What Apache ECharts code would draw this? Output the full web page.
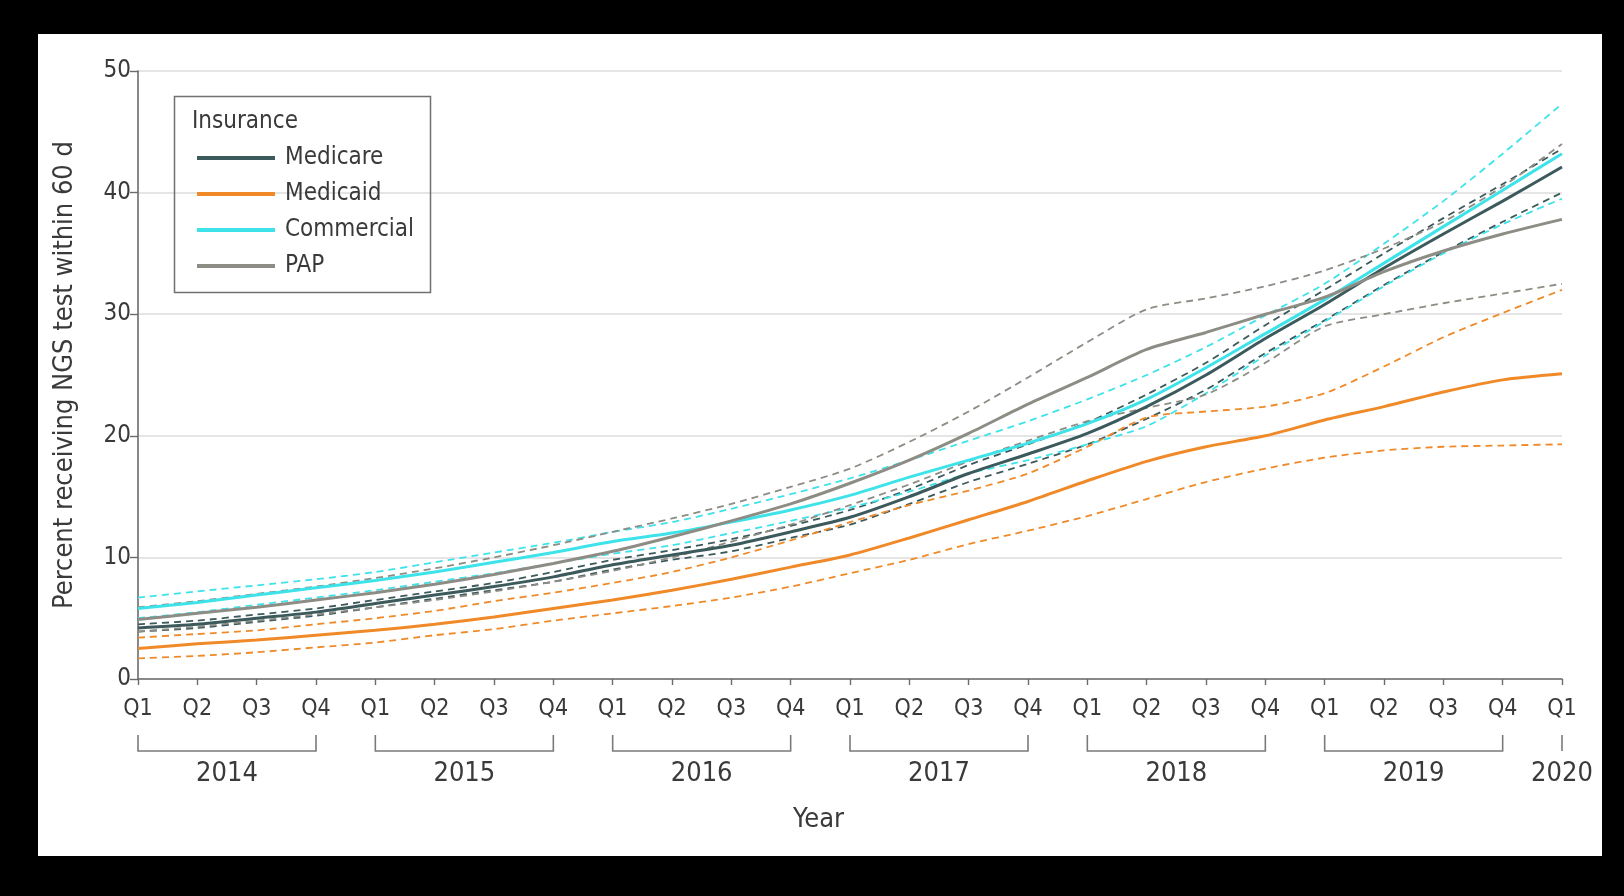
<!DOCTYPE html>
<html>
<head>
<meta charset="utf-8">
<script src="https://cdn.jsdelivr.net/npm/echarts@6/dist/echarts.min.js"></script>
<style>
  html, body { margin: 0; padding: 0; background: #000; width: 1624px; height: 896px; overflow: hidden; }
  #frame { position: absolute; left: 38px; top: 34px; width: 1564px; height: 822px; background: #fff; }
  #chart { width: 1564px; height: 822px; }
</style>
</head>
<body>
<div id="frame"><div id="chart"></div></div>
<script>
// ---- data ----
const quarters = ['Q1','Q2','Q3','Q4','Q1','Q2','Q3','Q4','Q1','Q2','Q3','Q4','Q1','Q2','Q3','Q4','Q1','Q2','Q3','Q4','Q1','Q2','Q3','Q4','Q1'];
const quarterYears = [2014,2014,2014,2014,2015,2015,2015,2015,2016,2016,2016,2016,2017,2017,2017,2017,2018,2018,2018,2018,2019,2019,2019,2019,2020];
const yearLabels = ['2014','2015','2016','2017','2018','2019','2020'];
const yearStart = [0, 4, 8, 12, 16, 20, 24];
const yearEnd   = [3, 7, 11, 15, 19, 23, 24];
const yTicks = [0, 10, 20, 30, 40, 50];

const medicare   = [4.2, 4.5, 5.0, 5.5, 6.2, 6.9, 7.6, 8.4, 9.4, 10.2, 11.0, 12.1, 13.3, 15.0, 16.9, 18.5, 20.2, 22.4, 25.0, 28.0, 30.8, 33.8, 36.6, 39.3, 42.1];
const medicareHi = [4.5, 4.8, 5.3, 5.8, 6.5, 7.2, 7.9, 8.8, 9.8, 10.6, 11.5, 12.6, 13.9, 15.6, 17.6, 19.3, 21.1, 23.4, 26.0, 29.1, 32.0, 35.0, 37.9, 40.7, 43.6];
const medicareLo = [3.9, 4.2, 4.7, 5.2, 5.9, 6.6, 7.3, 8.0, 9.0, 9.8, 10.5, 11.6, 12.7, 14.4, 16.2, 17.7, 19.3, 21.4, 23.8, 26.8, 29.5, 32.4, 35.1, 37.6, 40.0];

const medicaid   = [2.5, 2.9, 3.2, 3.6, 4.0, 4.5, 5.1, 5.8, 6.5, 7.3, 8.2, 9.2, 10.2, 11.6, 13.1, 14.6, 16.3, 17.9, 19.1, 20.0, 21.3, 22.4, 23.6, 24.6, 25.1];
const medicaidHi = [3.4, 3.7, 4.0, 4.5, 5.0, 5.6, 6.4, 7.1, 7.9, 8.8, 10.0, 11.4, 12.9, 14.3, 15.5, 16.9, 19.1, 21.5, 22.0, 22.4, 23.5, 25.7, 28.1, 30.1, 32.0];
const medicaidLo = [1.7, 1.9, 2.2, 2.6, 3.0, 3.6, 4.1, 4.8, 5.4, 6.0, 6.7, 7.6, 8.7, 9.8, 11.1, 12.2, 13.4, 14.8, 16.2, 17.3, 18.2, 18.8, 19.1, 19.2, 19.3];

const commercial   = [5.8, 6.3, 6.9, 7.5, 8.1, 8.8, 9.6, 10.4, 11.3, 12.0, 12.9, 13.9, 15.1, 16.6, 18.0, 19.4, 21.0, 23.0, 25.6, 28.4, 31.2, 34.2, 37.2, 40.2, 43.2];
const commercialHi = [6.7, 7.2, 7.7, 8.2, 8.8, 9.6, 10.4, 11.2, 12.1, 12.9, 14.0, 15.2, 16.5, 18.0, 19.6, 21.2, 23.0, 25.0, 27.3, 29.9, 32.5, 35.8, 39.3, 43.2, 47.3];
const commercialLo = [5.0, 5.5, 6.1, 6.7, 7.3, 8.0, 8.7, 9.5, 10.3, 11.0, 12.0, 13.0, 14.1, 15.4, 16.9, 18.0, 19.3, 20.8, 23.5, 26.6, 29.4, 32.3, 35.0, 37.4, 39.5];

const pap   = [4.9, 5.4, 5.9, 6.5, 7.1, 7.8, 8.6, 9.5, 10.5, 11.7, 13.0, 14.4, 16.1, 18.0, 20.2, 22.6, 24.8, 27.1, 28.5, 30.0, 31.4, 33.5, 35.2, 36.6, 37.8];
const papHi = [5.9, 6.4, 7.0, 7.6, 8.3, 9.1, 10.0, 11.0, 12.1, 13.2, 14.4, 15.8, 17.3, 19.5, 22.0, 24.8, 27.7, 30.4, 31.3, 32.3, 33.6, 35.4, 37.6, 40.5, 44.0];
const papLo = [3.9, 4.3, 4.8, 5.3, 5.9, 6.5, 7.2, 8.0, 8.9, 10.0, 11.3, 12.7, 14.3, 16.0, 17.9, 19.6, 21.2, 22.3, 23.4, 26.0, 29.0, 30.0, 30.9, 31.7, 32.5];

// ---- styling ----
const FONT = "'DejaVu Sans Condensed', 'Liberation Sans Narrow', 'DejaVu Sans', sans-serif";
const TEXT = '#3a3a3a';
const AXIS = '#6b6b6b';
const groups = [
  { name: 'Medicare',   color: '#3c5a5c', mid: medicare,   hi: medicareHi,   lo: medicareLo },
  { name: 'Medicaid',   color: '#f08a28', mid: medicaid,   hi: medicaidHi,   lo: medicaidLo },
  { name: 'Commercial', color: '#3ee3ea', mid: commercial, hi: commercialHi, lo: commercialLo },
  { name: 'PAP',        color: '#8d8c85', mid: pap,        hi: papHi,        lo: papLo }
];

const categories = quarters.map((q, i) => quarterYears[i] + ' ' + q);

const series = [];
groups.forEach(g => {
  [['hi', 'upper 95% CI'], ['lo', 'lower 95% CI']].forEach(([k, lbl]) => {
    series.push({
      name: g.name + ' ' + lbl, type: 'line', data: g[k], smooth: 0.25,
      symbol: 'none', z: 2,
      lineStyle: { color: g.color, width: 1.8, type: [7, 5] }
    });
  });
});
groups.forEach(g => {
  series.push({
    name: g.name, type: 'line', data: g.mid, smooth: 0.25,
    symbol: 'none', z: 3, itemStyle: { color: g.color },
    lineStyle: { color: g.color, width: 3 }
  });
});
series.push({
  name: 'years', type: 'custom', clip: false, silent: true, z: 1,
  encode: { x: 0, y: 1 },
  data: yearLabels.map((y, i) => [yearStart[i], yearEnd[i]]),
  renderItem: function (params, api) {
    const s = api.value(0), e = api.value(1);
    const p1 = api.coord([s, 0]), p2 = api.coord([e, 0]);
    const y0 = p1[1];
    const top = y0 + 56, bot = y0 + 72;
    const children = [];
    if (s === e) {
      children.push({ type: 'line', shape: { x1: p1[0], y1: top, x2: p1[0], y2: bot },
        style: { stroke: '#7a7a7a', lineWidth: 1.6 } });
    } else {
      children.push({ type: 'polyline',
        shape: { points: [[p1[0], top], [p1[0], bot], [p2[0], bot], [p2[0], top]] },
        style: { stroke: '#7a7a7a', fill: null, lineWidth: 1.6 } });
    }
    children.push({ type: 'text', style: {
      text: yearLabels[params.dataIndex], x: (p1[0] + p2[0]) / 2, y: y0 + 95,
      align: 'center', verticalAlign: 'middle', font: '27px ' + FONT, fill: TEXT } });
    return { type: 'group', children: children };
  }
});

const chart = echarts.init(document.getElementById('chart'), null, { renderer: 'canvas' });
chart.setOption({
  animation: false,
  backgroundColor: '#fff',
  textStyle: { fontFamily: FONT },
  grid: { left: 100, right: 40, top: 37, bottom: 177, containLabel: false },
  xAxis: {
    type: 'category', data: categories, boundaryGap: false,
    axisLine: { lineStyle: { color: AXIS, width: 1.6 } },
    axisTick: { alignWithLabel: true, length: 6, lineStyle: { color: AXIS, width: 1.4 } },
    axisLabel: { formatter: (v, i) => quarters[i], color: TEXT, fontSize: 23, margin: 19, fontFamily: FONT, interval: 0 },
    splitLine: { show: false }
  },
  yAxis: {
    type: 'value', min: yTicks[0], max: yTicks[yTicks.length - 1], interval: 10,
    name: 'Percent receiving NGS test within 60 d', nameLocation: 'middle', nameGap: 60,
    nameTextStyle: { fontSize: 27, color: TEXT, fontFamily: FONT },
    axisLine: { show: true, lineStyle: { color: AXIS, width: 1.6 } },
    axisTick: { show: true, length: 8, lineStyle: { color: AXIS, width: 1.4 } },
    axisLabel: { color: TEXT, fontSize: 24, margin: 7, fontFamily: FONT },
    splitLine: { lineStyle: { color: '#dcdcdc', width: 1.5 } }
  },
  legend: {
    data: groups.map(g => g.name), orient: 'vertical', left: 154, top: 107,
    icon: 'rect', itemWidth: 78, itemHeight: 4, itemGap: 12,
    textStyle: { fontSize: 24, color: TEXT, fontFamily: FONT, lineHeight: 24, padding: [0, 0, 0, 5] }
  },
  graphic: [
    { type: 'rect', left: 134, top: 60, shape: { width: 256, height: 196 },
      style: { fill: null, stroke: '#707070', lineWidth: 1.5 }, z: 10 },
    { type: 'text', left: 154, top: 76, style: { text: 'Insurance', font: '24px ' + FONT, fill: TEXT }, z: 10 },
    { type: 'text', left: 755, top: 772, style: { text: 'Year', font: '27px ' + FONT, fill: TEXT }, z: 10 }
  ],
  series: series
});
</script>
</body>
</html>
